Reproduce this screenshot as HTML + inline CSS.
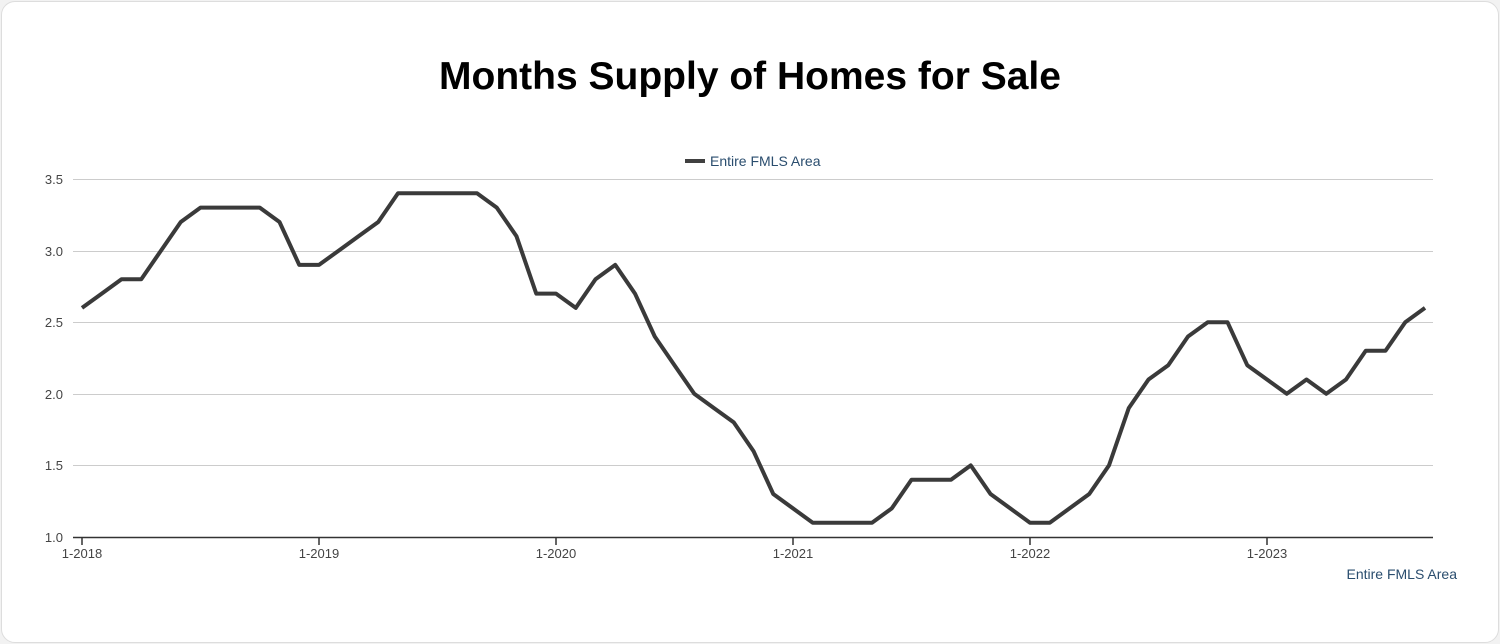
<!DOCTYPE html>
<html><head><meta charset="utf-8"><style>
html,body{margin:0;padding:0;background:#f2f2f2;}
.card{position:absolute;left:1px;top:1px;width:1496px;height:640px;background:#fff;border:1px solid #ddd;border-radius:14px;}
svg{position:absolute;left:0;top:0;}
</style></head><body>
<div class="card"></div>
<svg width="1500" height="644" xmlns="http://www.w3.org/2000/svg" font-family="Liberation Sans, Arial, sans-serif">
<text x="750" y="89" text-anchor="middle" font-size="39" font-weight="bold" fill="#000">Months Supply of Homes for Sale</text>
<line x1="685" y1="161" x2="705" y2="161" stroke="#404040" stroke-width="4"/>
<text x="710" y="166" font-size="14" fill="#2a4d6e">Entire FMLS Area</text>
<g stroke="#ccc" stroke-width="1">
<line x1="73" y1="179.5" x2="1433" y2="179.5"/>
<line x1="73" y1="251.5" x2="1433" y2="251.5"/>
<line x1="73" y1="322.5" x2="1433" y2="322.5"/>
<line x1="73" y1="394.5" x2="1433" y2="394.5"/>
<line x1="73" y1="465.5" x2="1433" y2="465.5"/>
</g>
<line x1="73" y1="537.5" x2="1433" y2="537.5" stroke="#333" stroke-width="1.5"/>
<g stroke="#333" stroke-width="1.5">
<line x1="82" y1="537" x2="82" y2="545"/><line x1="319" y1="537" x2="319" y2="545"/><line x1="556" y1="537" x2="556" y2="545"/><line x1="793" y1="537" x2="793" y2="545"/><line x1="1030" y1="537" x2="1030" y2="545"/><line x1="1267" y1="537" x2="1267" y2="545"/>
</g>
<g font-size="13" fill="#444" text-anchor="end">
<text x="63" y="184">3.5</text><text x="63" y="256">3.0</text><text x="63" y="327">2.5</text><text x="63" y="399">2.0</text><text x="63" y="470">1.5</text><text x="63" y="542">1.0</text>
</g>
<g font-size="13" fill="#444" text-anchor="middle">
<text x="82" y="558">1-2018</text><text x="319" y="558">1-2019</text><text x="556" y="558">1-2020</text><text x="793" y="558">1-2021</text><text x="1030" y="558">1-2022</text><text x="1267" y="558">1-2023</text>
</g>
<text x="1457" y="579" font-size="14" fill="#2a4d6e" text-anchor="end">Entire FMLS Area</text>
<polyline fill="none" stroke="#3a3a3a" stroke-width="4" stroke-linejoin="round" points="
82,307.9 101.75,293.6 121.5,279.2 141.25,279.2 161,250.6 180.75,222 200.5,207.6 220.25,207.6 240,207.6 259.75,207.6 279.5,222 299.25,264.9
319,264.9 338.75,250.6 358.5,236.3 378.25,222 398,193.3 417.75,193.3 437.5,193.3 457.25,193.3 477,193.3 496.75,207.6 516.5,236.3 536.25,293.6
556,293.6 575.75,307.9 595.5,279.2 615.25,264.9 635,293.6 654.75,336.5 674.5,365.2 694.25,393.8 714,408.1 733.75,422.4 753.5,451.1 773.25,494
793,508.4 812.75,522.7 832.5,522.7 852.25,522.7 872,522.7 891.75,508.4 911.5,479.7 931.25,479.7 951,479.7 970.75,465.4 990.5,494 1010.25,508.4
1030,522.7 1049.75,522.7 1069.5,508.4 1089.25,494 1109,465.4 1128.75,408.1 1148.5,379.5 1168.25,365.2 1188,336.5 1207.75,322.2 1227.5,322.2 1247.25,365.2
1267,379.5 1286.75,393.8 1306.5,379.5 1326.25,393.8 1346,379.5 1365.75,350.8 1385.5,350.8 1405.25,322.2 1425,307.9"/>
</svg>
</body></html>
